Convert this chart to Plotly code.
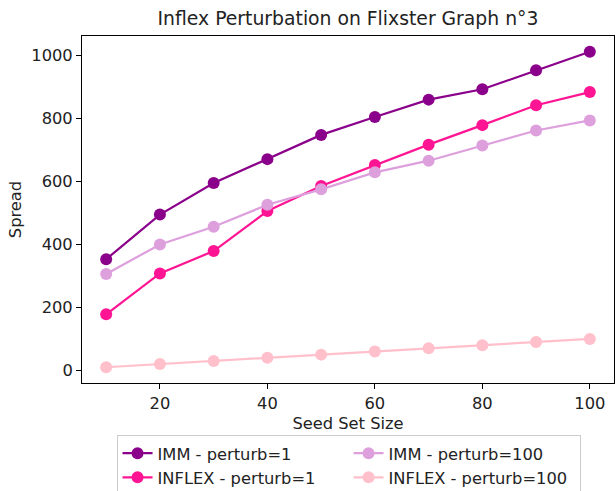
import plotly.graph_objects as go

seed_sizes = [10, 20, 30, 40, 50, 60, 70, 80, 90, 100]

imm_perturb_1 = [353, 495, 595, 671, 748, 805, 860, 893, 953, 1012]
inflex_perturb_1 = [178, 308, 379, 506, 586, 652, 717, 779, 842, 884]
imm_perturb_100 = [306, 400, 456, 526, 575, 629, 666, 714, 762, 794]
inflex_perturb_100 = [10, 20, 30, 40, 50, 60, 70, 80, 90, 100]

series = [
    ("IMM - perturb=1", imm_perturb_1, "#8B008B", 1),
    ("INFLEX - perturb=1", inflex_perturb_1, "#FF1493", 3),
    ("IMM - perturb=100", imm_perturb_100, "#DDA0DD", 2),
    ("INFLEX - perturb=100", inflex_perturb_100, "#FFC0CB", 4),
]

FONT = "DejaVu Sans"
TEXT_SIZE = 16.3

fig = go.Figure()
for name, values, color, rank in series:
    fig.add_trace(go.Scatter(
        x=seed_sizes, y=values, name=name, mode="lines+markers",
        line=dict(color=color, width=2.2),
        marker=dict(color=color, size=12),
        legendrank=rank,
    ))

axis_common = dict(
    showgrid=False, zeroline=False,
    showline=True, linecolor="black", linewidth=1, mirror=True,
    ticks="outside", ticklen=5, tickwidth=1, tickcolor="black",
    tickfont=dict(family=FONT, size=TEXT_SIZE, color="#222"),
)

fig.update_layout(
    width=616, height=491,
    margin=dict(l=82, r=2, t=35.5, b=108, autoexpand=False),
    paper_bgcolor="white", plot_bgcolor="white",
    font=dict(family=FONT, color="#222"),
    title=dict(text="Inflex Perturbation on Flixster Graph n°3",
               font=dict(family=FONT, size=18.8, color="#222"),
               x=(82 + 614) / 2 / 616, xanchor="center",
               y=1 - 18 / 491, yanchor="middle"),
    xaxis=dict(range=[5.5, 104.5], tickvals=[20, 40, 60, 80, 100],
               title=dict(text="Seed Set Size", font=dict(family=FONT, size=TEXT_SIZE), standoff=6),
               **axis_common),
    yaxis=dict(range=[-40.1, 1062.1], tickvals=[0, 200, 400, 600, 800, 1000],
               title=dict(text="Spread", font=dict(family=FONT, size=TEXT_SIZE), standoff=5),
               **axis_common),
    legend=dict(
        orientation="h", x=0.501, xanchor="center", y=-0.15, yanchor="top",
        entrywidth=186, entrywidthmode="pixels",
        bordercolor="#cccccc", borderwidth=1, bgcolor="white",
        font=dict(family=FONT, size=TEXT_SIZE, color="#222"),
        traceorder="normal", tracegroupgap=0,
    ),
    showlegend=True,
)

fig.write_html("out.html")
